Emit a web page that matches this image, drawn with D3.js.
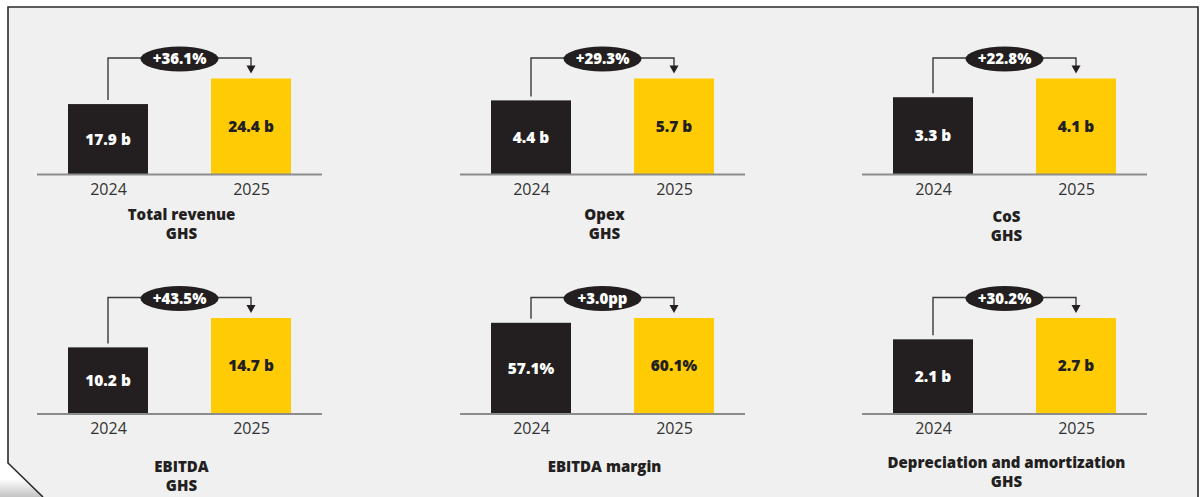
<!DOCTYPE html>
<html>
<head>
<meta charset="utf-8">
<script src="https://cdn.jsdelivr.net/npm/d3@7"></script>
<style>
  html, body { margin: 0; padding: 0; background: #ffffff; }
  svg { display: block; font-family: "Open Sans", Lato, sans-serif; }
</style>
</head>
<body>
<svg id="chart" width="1203" height="497"></svg>
<script>
// KPI data: prior year vs current year
const years = ["2024", "2025"];
const metricTitles = [
  ["Total revenue", "GHS"],
  ["Opex", "GHS"],
  ["CoS", "GHS"],
  ["EBITDA", "GHS"],
  ["EBITDA margin"],
  ["Depreciation and amortization", "GHS"]
];
const values2024 = [17.9, 4.4, 3.3, 10.2, 57.1, 2.1];
const values2025 = [24.4, 5.7, 4.1, 14.7, 60.1, 2.7];
const units = [" b", " b", " b", " b", "%", " b"];
const changeLabels = ["+36.1%", "+29.3%", "+22.8%", "+43.5%", "+3.0pp", "+30.2%"];

// Layout
const colLeft = [68, 491, 893];       // left edge of the first bar in each column
const rowBase = [174.5, 414];         // baseline of each row
const titleY = [[215, 215, 217], [467, 467, 463]];
const barW = 80, barGap = 143, maxBarH = 96;
const colors = { prev: "#231f20", curr: "#ffcb05", ink: "#231f20", axis: "#8c8c8c", bg: "#f0f0f0" };

const svg = d3.select("#chart");

// Page-curl shading at the lower-left corner
const defs = svg.append("defs");
const curl = defs.append("linearGradient").attr("id", "curl")
  .attr("x1", 0).attr("y1", 0).attr("x2", 0).attr("y2", 1);
curl.append("stop").attr("offset", "0%").attr("stop-color", "#fbfbfb");
curl.append("stop").attr("offset", "100%").attr("stop-color", "#c4c4c4");

svg.append("path")
  .attr("d", "M0,480 L25.5,480 L43,497 L0,497 Z")
  .attr("fill", "url(#curl)");

// Card background and border (folded corner bottom-left)
svg.append("path")
  .attr("d", "M8,7 H1198 V497 H43 L8,463 Z")
  .attr("fill", colors.bg);
svg.append("path")
  .attr("d", "M43,497 L8,463 V7 H1198 V497")
  .attr("fill", "none")
  .attr("stroke", "#2a2a2a")
  .attr("stroke-width", 1.6);

metricTitles.forEach((title, i) => {
  const row = Math.floor(i / 3), col = i % 3;
  const x0 = colLeft[col], base = rowBase[row];
  const vals = [values2024[i], values2025[i]];

  const x = d3.scalePoint().domain(years).range([x0 + barW / 2, x0 + barW / 2 + barGap]);
  const y = d3.scaleLinear().domain([0, d3.max(vals)]).range([base, base - maxBarH]);

  const g = svg.append("g");

  // Bars
  g.selectAll("rect.bar").data(years).join("rect")
    .attr("class", "bar")
    .attr("x", d => x(d) - barW / 2)
    .attr("width", barW)
    .attr("y", (d, j) => y(vals[j]))
    .attr("height", (d, j) => base - y(vals[j]))
    .attr("fill", (d, j) => j === 0 ? colors.prev : colors.curr);

  // Value labels inside bars
  g.selectAll("text.val").data(years).join("text")
    .attr("class", "val")
    .attr("x", d => x(d))
    .attr("y", (d, j) => (y(vals[j]) + base) / 2)
    .attr("dy", "0.35em")
    .attr("text-anchor", "middle")
    .attr("font-size", 15.5)
    .attr("font-weight", 800)
    .attr("fill", (d, j) => j === 0 ? "#ffffff" : colors.ink)
    .text((d, j) => d3.format(".1f")(vals[j]) + units[i]);

  // Axis baseline with year labels
  const axis = d3.axisBottom(x).tickSize(0).tickPadding(9);
  const ax = g.append("g").attr("transform", `translate(0,${base})`).call(axis);
  ax.select(".domain").remove();
  ax.selectAll("text")
    .attr("font-size", 16)
    .attr("font-family", "'Open Sans', sans-serif")
    .attr("fill", "#333333");
  g.append("line")
    .attr("x1", x0 - 31).attr("x2", x0 + barW + barGap + 31)
    .attr("y1", base).attr("y2", base)
    .attr("stroke", colors.axis).attr("stroke-width", 2);

  // Change connector: from prior bar up, across, and down to current bar
  const c1 = x(years[0]), c2 = x(years[1]);
  const hy = base - 116.5;
  const tipY = y(vals[1]) - 5;
  g.append("path")
    .attr("d", `M${c1},${y(vals[0]) - 4} V${hy} H${c2} V${tipY - 7}`)
    .attr("fill", "none")
    .attr("stroke", "#3a3a3a")
    .attr("stroke-width", 1.4);
  g.append("path")
    .attr("d", `M${c2 - 4.5},${tipY - 8} L${c2 + 4.5},${tipY - 8} L${c2},${tipY} Z`)
    .attr("fill", "#231f20");

  const mx = (c1 + c2) / 2;
  g.append("ellipse")
    .attr("cx", mx).attr("cy", hy + 1)
    .attr("rx", 39).attr("ry", 12.5)
    .attr("fill", colors.ink);
  g.append("text")
    .attr("x", mx).attr("y", hy + 1)
    .attr("dy", "0.35em")
    .attr("text-anchor", "middle")
    .attr("font-size", 15)
    .attr("font-weight", 800)
    .attr("fill", "#ffffff")
    .text(changeLabels[i]);

  // Metric title
  const t = g.append("text")
    .attr("text-anchor", "middle")
    .attr("font-size", 15)
    .attr("font-weight", 800)
    .attr("fill", colors.ink);
  title.forEach((line, k) => {
    t.append("tspan")
      .attr("x", (c1 + c2) / 2 + 2)
      .attr("y", titleY[row][col] + k * 18.5)
      .attr("dy", "0.35em")
      .text(line);
  });
});
</script>
</body>
</html>
